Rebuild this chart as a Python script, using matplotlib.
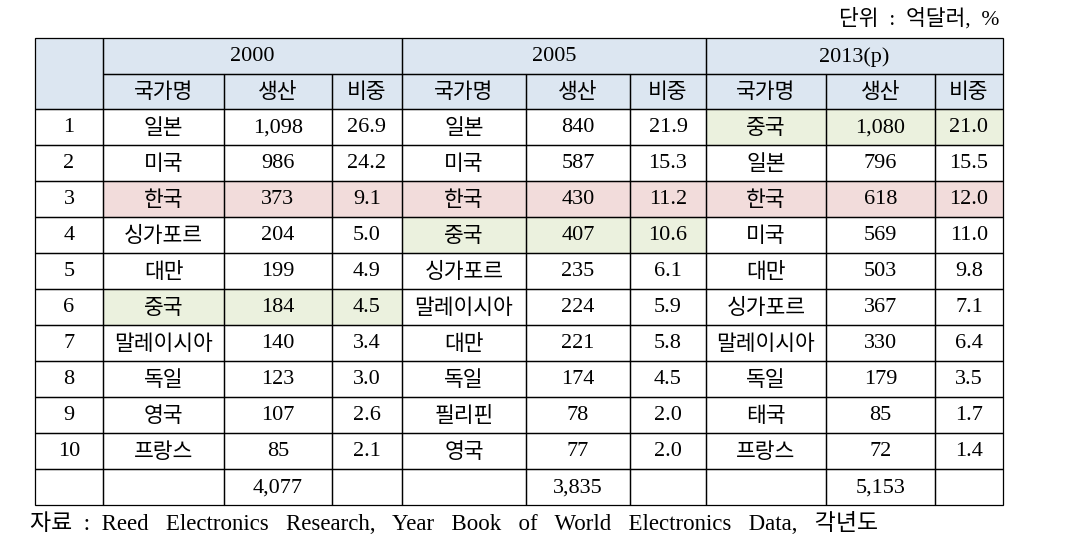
import matplotlib.pyplot as plt
from matplotlib.patches import Rectangle

plt.rcParams['font.family'] = ['Liberation Serif', 'Noto Sans CJK KR']

# ---- data ----
years = ['2000', '2005', '2013(p)']
sub_headers = ['국가명', '생산', '비중']
ranks = list(range(1, 11))

countries_2000 = ['일본', '미국', '한국', '싱가포르', '대만', '중국', '말레이시아', '독일', '영국', '프랑스']
prod_2000 = ['1,098', '986', '373', '204', '199', '184', '140', '123', '107', '85']
share_2000 = ['26.9', '24.2', '9.1', '5.0', '4.9', '4.5', '3.4', '3.0', '2.6', '2.1']

countries_2005 = ['일본', '미국', '한국', '중국', '싱가포르', '말레이시아', '대만', '독일', '필리핀', '영국']
prod_2005 = ['840', '587', '430', '407', '235', '224', '221', '174', '78', '77']
share_2005 = ['21.9', '15.3', '11.2', '10.6', '6.1', '5.9', '5.8', '4.5', '2.0', '2.0']

countries_2013 = ['중국', '일본', '한국', '미국', '대만', '싱가포르', '말레이시아', '독일', '태국', '프랑스']
prod_2013 = ['1,080', '796', '618', '569', '503', '367', '330', '179', '85', '72']
share_2013 = ['21.0', '15.5', '12.0', '11.0', '9.8', '7.1', '6.4', '3.5', '1.7', '1.4']

totals = ['4,077', '3,835', '5,153']

unit_text = '단위  :  억달러,  %'
source_text = '자료  :  Reed   Electronics   Research,   Year   Book   of   World   Electronics   Data,   각년도'

# ---- layout (pixel coordinates) ----
col_x = [35, 103, 224, 332, 402, 526, 630, 706, 826, 935, 1003]
row_y = [38, 73.5] + [109 + 36 * i for i in range(12)]
header_fill = '#dce6f1'
korea_fill = '#f2dcdb'
china_fill = '#ebf1de'
lw = 0.9
num_size = 16
kor_size = 15.5

fig = plt.figure(figsize=(10.65, 5.55), dpi=100)
ax = fig.add_axes([0, 0, 1, 1])
ax.set_xlim(0, 1065)
ax.set_ylim(555, 0)
ax.axis('off')

def cell(c0, c1, r0, r1, text='', fill=None, size=num_size):
    x0, x1 = col_x[c0], col_x[c1]
    y0, y1 = row_y[r0], row_y[r1]
    if fill:
        ax.add_patch(Rectangle((x0, y0), x1 - x0, y1 - y0, facecolor=fill,
                               edgecolor='none', zorder=1))
    ax.add_patch(Rectangle((x0, y0), x1 - x0, y1 - y0, facecolor='none',
                           edgecolor='black', lw=lw, zorder=3))
    if text:
        dy = 2 if size == kor_size else 1
        ax.text((x0 + x1) / 2, (y0 + y1) / 2 + dy, text, ha='center', va='center',
                fontsize=size, zorder=4)

# header
cell(0, 1, 0, 2, '', header_fill)
for i, yr in enumerate(years):
    c = 1 + 3 * i
    cell(c, c + 3, 0, 1, yr, header_fill)
    for j, h in enumerate(sub_headers):
        cell(c + j, c + j + 1, 1, 2, h, header_fill, size=kor_size)

# body
blocks = [(countries_2000, prod_2000, share_2000),
          (countries_2005, prod_2005, share_2005),
          (countries_2013, prod_2013, share_2013)]
for r, rank in enumerate(ranks):
    cell(0, 1, r + 2, r + 3, str(rank))
    for i, (names, prods, shares) in enumerate(blocks):
        c = 1 + 3 * i
        fill = None
        if names[r] == '한국':
            fill = korea_fill
        elif names[r] == '중국':
            fill = china_fill
        cell(c, c + 1, r + 2, r + 3, names[r], fill, size=kor_size)
        cell(c + 1, c + 2, r + 2, r + 3, prods[r], fill)
        cell(c + 2, c + 3, r + 2, r + 3, shares[r], fill)

# total row
cell(0, 1, 12, 13)
for i, tot in enumerate(totals):
    c = 1 + 3 * i
    cell(c, c + 1, 12, 13)
    cell(c + 1, c + 2, 12, 13, tot)
    cell(c + 2, c + 3, 12, 13)

ax.text(999, 19, unit_text, ha='right', va='center', fontsize=15.5)
ax.text(30, 523, source_text, ha='left', va='center', fontsize=16.5)

fig.savefig('out.png', dpi=100)
